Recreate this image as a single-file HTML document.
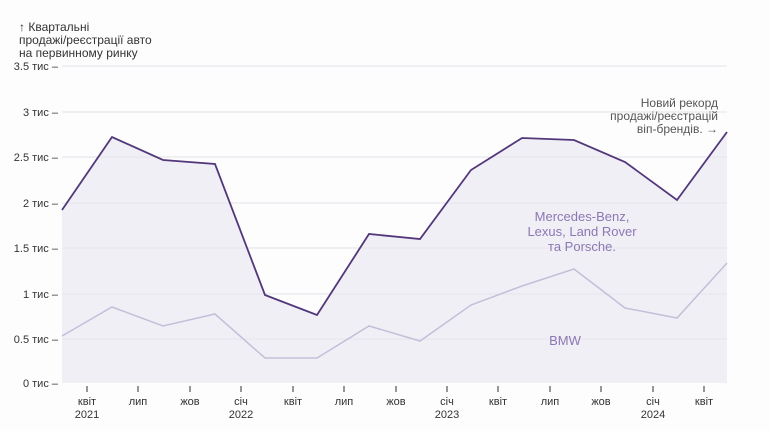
<!DOCTYPE html>
<html><head><meta charset="utf-8"><style>
body{margin:0;background:#fff;}
svg{display:block;font-family:"Liberation Sans","DejaVu Sans",sans-serif;}
</style></head><body>
<svg width="770" height="431" viewBox="0 0 770 431">
<rect width="770" height="431" fill="#fdfdfd"/>
<g font-size="12" fill="#333">
<text x="19" y="31">↑ Квартальні</text>
<text x="19" y="44">продажі/реєстрації авто</text>
<text x="19" y="57">на первинному ринку</text>
</g>
<path d="M62,383 L62,210 112,137 163,160 215,164 265,295 317,315 369,234 420,239 471,170 522,138 574,140 625,162 677,200 727,132 L727,383 Z" fill="#f1eff6"/>
<g stroke="#e4e4ea" stroke-width="1">
<line x1="62" y1="66" x2="727" y2="66"/><line x1="62" y1="112" x2="727" y2="112"/><line x1="62" y1="157" x2="727" y2="157"/><line x1="62" y1="203" x2="727" y2="203"/><line x1="62" y1="248" x2="727" y2="248"/><line x1="62" y1="294" x2="727" y2="294"/><line x1="62" y1="339" x2="727" y2="339"/>
</g>
<g font-size="11" fill="#333" text-anchor="end">
<text x="58" y="70">3.5 тис –</text><text x="58" y="116">3 тис –</text><text x="58" y="161">2.5 тис –</text><text x="58" y="207">2 тис –</text><text x="58" y="252">1.5 тис –</text><text x="58" y="298">1 тис –</text><text x="58" y="343">0.5 тис –</text><text x="58" y="387">0 тис –</text>
</g>
<polyline points="62,336 112,307 163,326 215,314 265,358 317,358 369,326 420,341 471,305 522,286 574,269 625,308 677,318 727,263" fill="none" stroke="#c4bfd9" stroke-width="1.5"/>
<polyline points="62,210 112,137 163,160 215,164 265,295 317,315 369,234 420,239 471,170 522,138 574,140 625,162 677,200 727,132" fill="none" stroke="#52387a" stroke-width="1.8"/>
<g stroke="#333" stroke-width="1">
<line x1="87" y1="386" x2="87" y2="392"/><line x1="138" y1="386" x2="138" y2="392"/><line x1="190" y1="386" x2="190" y2="392"/><line x1="241" y1="386" x2="241" y2="392"/><line x1="293" y1="386" x2="293" y2="392"/><line x1="344" y1="386" x2="344" y2="392"/><line x1="396" y1="386" x2="396" y2="392"/><line x1="447" y1="386" x2="447" y2="392"/><line x1="498" y1="386" x2="498" y2="392"/><line x1="550" y1="386" x2="550" y2="392"/><line x1="601" y1="386" x2="601" y2="392"/><line x1="653" y1="386" x2="653" y2="392"/><line x1="704" y1="386" x2="704" y2="392"/>
</g>
<g font-size="11" fill="#333" text-anchor="middle">
<text x="87" y="405">квіт</text><text x="87" y="418">2021</text>
<text x="138" y="405">лип</text><text x="190" y="405">жов</text>
<text x="241" y="405">січ</text><text x="241" y="418">2022</text>
<text x="293" y="405">квіт</text><text x="344" y="405">лип</text><text x="396" y="405">жов</text>
<text x="447" y="405">січ</text><text x="447" y="418">2023</text>
<text x="498" y="405">квіт</text><text x="550" y="405">лип</text><text x="601" y="405">жов</text>
<text x="653" y="405">січ</text><text x="653" y="418">2024</text>
<text x="704" y="405">квіт</text>
</g>
<g font-size="12" fill="#555" text-anchor="end">
<text x="718" y="107">Новий рекорд</text>
<text x="718" y="120">продажі/реєстрацій</text>
<text x="718" y="133">віп-брендів. →</text>
</g>
<g font-size="13" fill="#8b78b3" text-anchor="middle">
<text x="582" y="221">Mercedes-Benz,</text>
<text x="582" y="236">Lexus, Land Rover</text>
<text x="582" y="251">та Porsche.</text>
<text x="565" y="345">BMW</text>
</g>
</svg>
</body></html>
